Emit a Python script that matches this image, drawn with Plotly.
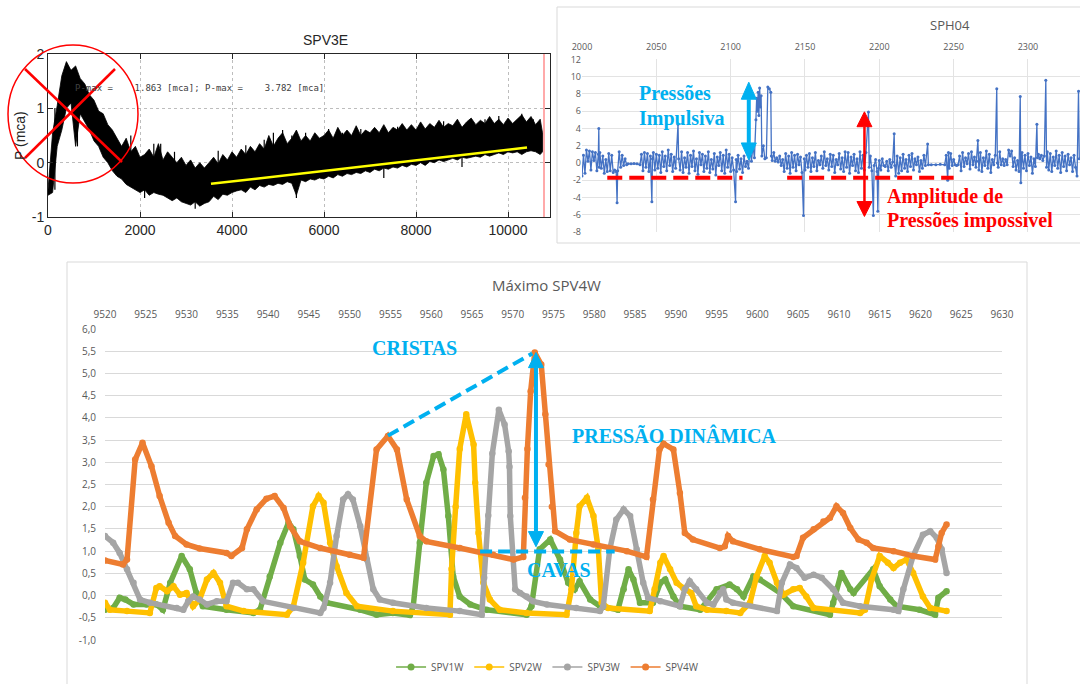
import plotly.graph_objects as go

W, H = 1080, 684


def px(x):
    return x / W


def py(y):
    return 1 - y / H


# ---------------- Panel 1 : SPV3E (MATLAB style) ----------------
SPV3E_X = [0, 100, 200, 300, 400, 500, 600, 700, 800, 900,
           1000, 1100, 1200, 1300, 1400, 1500, 1600, 1700, 1800, 1900,
           2000, 2100, 2200, 2300, 2400, 2500, 2600, 2700, 2800, 2900,
           3000, 3100, 3200, 3300, 3400, 3500, 3600, 3700, 3800, 3900,
           4000, 4100, 4200, 4300, 4400, 4500, 4600, 4700, 4800, 4900,
           5000, 5100, 5200, 5300, 5400, 5500, 5600, 5700, 5800, 5900,
           6000, 6100, 6200, 6300, 6400, 6500, 6600, 6700, 6800, 6900,
           7000, 7100, 7200, 7300, 7400, 7500, 7600, 7700, 7800, 7900,
           8000, 8100, 8200, 8300, 8400, 8500, 8600, 8700, 8800, 8900,
           9000, 9100, 9200, 9300, 9400, 9500, 9600, 9700, 9800, 9900,
           10000, 10100, 10200, 10300, 10400, 10500, 10600, 10700, 10750]
SPV3E_UPPER = [-0.5, 0.55, 1.05, 1.6, 1.86, 1.7, 1.78, 1.55, 1.45, 1.25,
               1.15, 0.95, 0.9, 0.7, 0.6, 0.45, 0.3, 0.45, 0.2, 0.3,
               0.1, 0.15, 0.25, 0.1, 0.35, 0.05, 0.2, 0.1, 0.0, 0.1,
               -0.05, 0.05, -0.1, 0.0, -0.1, 0.0, 0.1, -0.02, 0.15, 0.05,
               0.2, 0.1, 0.25, 0.15, 0.3, 0.2, 0.35, 0.25, 0.5, 0.3,
               0.45, 0.55, 0.35, 0.45, 0.6, 0.4, 0.5, 0.4, 0.55, 0.45,
               0.5, 0.6, 0.45, 0.65, 0.5, 0.6, 0.5, 0.68, 0.5, 0.6,
               0.55, 0.65, 0.55, 0.7, 0.55, 0.65, 0.6, 0.72, 0.6, 0.7,
               0.6, 0.75, 0.62, 0.72, 0.65, 0.78, 0.65, 0.72, 0.68, 0.8,
               0.65, 0.75, 0.82, 0.7, 0.78, 0.72, 0.85, 0.72, 0.8, 0.7,
               0.82, 0.72, 0.8, 0.88, 0.75, 0.85, 0.7, 0.8, 0.55]
SPV3E_LOWER = [-0.6, -0.55, 0.3, 0.6, 1.0, 1.1, 0.3, 0.9, 0.75, 0.6,
               0.4, 0.3, 0.1, 0.0, -0.15, -0.25, -0.3, -0.4, -0.45, -0.5,
               -0.55, -0.5, -0.6, -0.55, -0.58, -0.6, -0.65, -0.7, -0.65, -0.72,
               -0.75, -0.78, -0.72, -0.8, -0.75, -0.72, -0.62, -0.68, -0.58, -0.6,
               -0.55, -0.52, -0.5, -0.55, -0.45, -0.5, -0.42, -0.45, -0.4, -0.42,
               -0.38, -0.4, -0.35, -0.38, -0.6, -0.32, -0.35, -0.3, -0.32, -0.28,
               -0.3, -0.25, -0.28, -0.22, -0.25, -0.2, -0.22, -0.18, -0.2, -0.15,
               -0.18, -0.12, -0.15, -0.1, -0.12, -0.08, -0.1, -0.05, -0.08, -0.03,
               -0.05, 0.0, -0.05, 0.02, 0.0, 0.05, 0.02, 0.05, 0.08, 0.05,
               0.1, 0.08, 0.1, 0.12, 0.1, 0.15, 0.12, 0.15, 0.18, 0.15,
               0.2, 0.18, 0.2, 0.15, 0.2, 0.22, 0.2, 0.15, 0.2]
# isolated spikes sticking out of the noise band (x, bottom, top)
SPV3E_SPIKE_X = [150, 640, 1800, 2100, 2300, 2450, 2750, 3200, 3700, 4300, 4700, 4900,
                 5100, 5300, 5400, 5600, 6100, 6400, 6800, 7100, 7300, 7600, 8100, 8600,
                 9000, 9100, 9500, 9800, 10300, 10550]
SPV3E_SPIKE_BOT = [-0.5, 0.3, 0.0, -0.65, -0.2, -0.2, -0.3, -0.85, -0.3, -0.2, -0.1, -0.1,
                   -0.1, 0.0, -0.65, 0.0, 0.0, 0.1, 0.1, 0.2, -0.28, 0.2, 0.3, 0.3,
                   -0.08, 0.3, 0.4, 0.4, 0.4, 0.4]
SPV3E_SPIKE_TOP = [1.0, 1.2, 0.5, 0.0, 0.35, 0.35, 0.2, -0.3, 0.22, 0.32, 0.42, 0.55,
                   0.6, 0.5, 0.2, 0.55, 0.62, 0.55, 0.62, 0.62, 0.3, 0.66, 0.72, 0.76,
                   0.5, 0.72, 0.8, 0.86, 0.9, 0.8]
SPV3E_TREND_X = [3543, 10413]
SPV3E_TREND_Y = [-0.39, 0.28]
SPV3E_END_MARK = 10783
SPV3E_XTICKS = [0, 2000, 4000, 6000, 8000, 10000]
SPV3E_XLABELS = ["0", "2000", "4000", "6000", "8000", "10000"]
SPV3E_YTICKS = [-1, 0, 1, 2]
SPV3E_YLABELS = ["-1", "0", "1", "2"]

# ---------------- Panel 2 : SPH04 ----------------
SPH_X = [2000, 2001, 2002, 2003, 2004, 2005, 2006, 2007, 2008, 2009, 2010, 2011, 2011.3, 2011.6,
         2012, 2013, 2014, 2015, 2016, 2017, 2018, 2019, 2020, 2021, 2022, 2023, 2023.6, 2024,
         2025, 2026, 2027, 2028, 2029, 2030, 2031, 2033, 2035, 2037, 2039,
         2040, 2041, 2042, 2043, 2044, 2045, 2046, 2047, 2047.4,
         2048, 2049, 2050, 2051, 2052, 2053, 2054, 2055, 2056, 2057, 2058, 2059, 2060, 2061, 2062, 2063, 2064.6, 2065,
         2066, 2067, 2068, 2069, 2070, 2071, 2072, 2073, 2074, 2075, 2076, 2077, 2078, 2079, 2080, 2081, 2082, 2083,
         2084, 2085, 2086, 2087, 2088, 2089, 2090, 2091, 2092, 2093, 2094, 2095, 2096, 2097, 2098, 2099, 2100, 2101, 2102,
         2103.3, 2103.7, 2104, 2105, 2106, 2107, 2108, 2109, 2110, 2111, 2112, 2113, 2114, 2115, 2116,
         2117, 2117.5, 2118, 2118.5, 2119, 2119.5, 2120, 2120.5, 2121, 2122, 2123, 2124, 2125, 2126, 2127, 2127.4,
         2128, 2129, 2130, 2131, 2132, 2133, 2134, 2135,
         2136, 2137, 2138, 2139, 2140, 2141, 2142, 2143, 2144, 2145, 2146, 2147, 2148, 2149, 2149.5,
         2150, 2151, 2152, 2153, 2154, 2155, 2156, 2157, 2158, 2159, 2160, 2161, 2162, 2163, 2164, 2165, 2166, 2167,
         2168, 2169, 2170, 2171, 2172, 2173, 2174, 2175,
         2176, 2177, 2178, 2179, 2180, 2181, 2182, 2183, 2184, 2185, 2186, 2187, 2188, 2189, 2190, 2191, 2192.7, 2193.2,
         2194, 2195, 2196, 2196.5, 2197.5, 2198.5, 2199, 2199.5,
         2200, 2201, 2202, 2203, 2204, 2205, 2206, 2207, 2208, 2209, 2210, 2210.4,
         2211, 2212, 2213, 2214, 2215, 2216, 2217, 2218, 2219, 2220, 2221, 2222, 2223, 2224, 2225, 2226, 2227, 2228,
         2229, 2230, 2231, 2232.5, 2233,
         2235, 2238, 2241, 2244, 2245, 2246, 2246.5, 2247, 2248, 2249, 2250,
         2251, 2252, 2253, 2254, 2255, 2256, 2257, 2258, 2259, 2260, 2261, 2262, 2263, 2264, 2265, 2266.3, 2266.6,
         2267, 2268, 2269, 2270, 2271, 2272, 2273, 2274, 2275, 2276, 2277, 2278, 2279, 2279.4,
         2280, 2281, 2282, 2283, 2284, 2285, 2286, 2287, 2288, 2289, 2290, 2291, 2292, 2293, 2294, 2294.8, 2295.2, 2295.6,
         2296, 2297, 2298, 2299, 2300, 2301, 2302, 2303, 2304, 2305, 2306, 2306.4,
         2307, 2308, 2309, 2310, 2311, 2312, 2312.5,
         2313, 2314, 2315, 2316, 2317, 2318, 2319, 2320, 2321, 2322, 2323, 2324, 2325, 2326, 2327, 2328, 2329, 2330,
         2331, 2332, 2333, 2334, 2334.5]
SPH_Y = [-1.5, 0.9, -1.2, 1.5, 0.2, 1.4, -0.8, 1.3, 0.3, 1.2, -0.9, 1.0, 4.0, -0.5,
         1.2, -0.6, 0.8, -1.2, 0.4, -1.0, 1.1, -0.9, 0.9, -1.1, -0.8, -1.0, -4.6, -0.9,
         1.3, -0.5, 0.9, -0.3, 0.5, -0.2, -0.1, -0.1, -0.05, -0.1, -0.2,
         1.0, -0.9, 1.2, -0.5, 1.1, -1.0, 0.8, -4.5, 0.5,
         1.2, -0.8, 1.0, -0.6, 0.9, -1.1, 1.3, -0.4, 0.8, -0.9, 1.5, -0.3, 1.0, -1.0, 0.7, -0.6, 4.5, 0.5,
         -0.8, 1.3, -1.1, 0.6, -0.5, 1.2, -1.2, 0.9, -0.4, 1.4, -0.9, 0.5, -1.3, 1.2, -0.2, 1.0, -1.0, 0.8,
         -0.6, 1.3, -1.1, 0.4, -0.7, 1.1, -1.4, 0.7, -0.3, 1.2, -0.9, 0.9, -1.2, 1.5, -0.5, 1.0, -1.0, 0.6, -0.8,
         -4.5, 0.4, -1.0, 0.9, -0.7, 0.5, -1.1, 0.8, -0.4, 0.2, -0.6, 1.5, 0.2, 2.0, 0.6,
         5.0, 7.5, 6.0, 8.2, 5.5, 8.7, 6.5, 7.8, 0.8, 2.0, 0.5, 0.6, 8.8, 8.6, 8.2, 0.8,
         0.3, 1.2, 0.2, 0.6, 0.1, 0.8, -0.3, 0.4,
         -1.0, 1.1, -0.6, 0.8, -1.2, 1.2, -0.5, 0.9, -0.9, 1.0, -0.2, 0.7, -1.1, -6.1, 0.5,
         -0.8, 0.9, -0.5, 1.1, -1.0, 0.6, -0.4, 1.2, -0.9, 0.3, -0.2, 0.8, -0.6, 1.3, -0.3, 0.5, -0.8, 1.0,
         -0.4, 0.9, -1.1, 0.4, -0.2, 1.1, -0.7, 0.6,
         -1.0, 1.3, -0.5, 1.2, -1.2, 0.7, -0.3, 1.0, -0.9, 0.5, -1.1, 1.3, -0.6, 0.9, -0.8, 1.2, 5.9, -0.5,
         0.8, -0.9, -6.1, -0.3, 0.4, -1.0, -5.6, -0.6,
         0.3, -0.8, 0.5, -0.3, -0.4, 0.2, -0.9, 0.4, -0.5, 0.1, 3.4, -0.3,
         -1.5, 0.8, -1.2, 0.6, -0.9, 1.0, -0.6, 0.4, -1.0, 0.9, -0.4, 1.1, -0.8, 0.5, -0.2, 0.7, -1.0, 0.3,
         -0.6, 0.9, -0.3, 2.2, -0.2,
         -0.2, -0.2, -0.15, -0.2, 0.9, -2.0, 1.2, -0.6, 1.1, -0.3, 0.4,
         -0.2, -0.3, -0.2, 0.8, -0.9, 1.2, -0.4, 0.6, -0.1, 1.1, -0.7, 1.3, -0.2, 0.7, -0.5, 2.6, 0.2,
         -0.8, 1.2, -1.0, 0.6, -0.3, 1.4, -0.6, 1.0, -1.1, 0.4, -0.2, 0.9, 8.6, 0.0,
         -0.5, 1.3, -0.2, 0.5, -0.3, 0.4, -0.2, 1.5, 0.8, 1.4, -0.4, 0.6, -0.8, 0.3, -1.0, 7.7, -2.3, 0.2,
         1.2, -0.6, 0.9, -0.9, 1.1, -0.3, 0.7, -1.2, 0.5, -0.4, 4.5, 0.6,
         1.0, 0.5, 0.9, 0.3, 0.8, 9.6, -0.5,
         1.3, -0.8, 1.1, -1.0, 0.7, -0.3, 1.4, -0.6, 0.9, -1.1, 1.2, -0.4, 0.8, -0.9, 1.0, -0.2, 0.6, -1.0,
         0.9, -0.5, -1.5, 8.3, 0.5]
assert len(SPH_X) == len(SPH_Y), (len(SPH_X), len(SPH_Y))
SPH_XTICKS = [2000, 2050, 2100, 2150, 2200, 2250, 2300]
SPH_YTICKS = [-8, -6, -4, -2, 0, 2, 4, 6, 8, 10, 12]

# ---------------- Panel 3 : Máximo SPV4W ----------------
SPV1W_X = [9520, 9521, 9521.8, 9522.5, 9523.5, 9525.1, 9526.3, 9527.1, 9528, 9529.4, 9530.4, 9531.2, 9532,
           9534.9, 9538.2, 9539, 9540.2, 9541.5, 9542.5, 9543.1, 9543.9, 9544.5, 9545.5, 9546.4, 9547.2,
           9551.3, 9553.3, 9555.3, 9557.4, 9557.8, 9558.6, 9559.4, 9560.3, 9560.9, 9561.5, 9562.1, 9562.7,
           9563.5, 9564.8, 9566.8, 9571.7, 9572.3, 9573.3, 9574.6, 9575.8, 9576.8, 9577.6, 9578.2, 9579.5,
           9580.7, 9582.9, 9583.6, 9584.2, 9584.8, 9585.6, 9587.2, 9588.1, 9588.7, 9589.7, 9590.5, 9593,
           9595, 9596.6, 9597.5, 9598.3, 9599.5, 9600.3, 9602.8, 9604.4, 9608.9, 9609.3, 9610.3, 9611.4,
           9611.8, 9614.2, 9615, 9616.3, 9617.1, 9619.9, 9621.8, 9622.2, 9623.2]
SPV1W_Y = [-0.32, -0.28, -0.05, -0.09, -0.2, -0.2, -0.2, -0.32, 0.29, 0.89, 0.59, 0.06, -0.24,
           -0.32, -0.39, -0.32, 0.43, 1.19, 1.64, 1.49, 0.89, 0.36, 0.25, -0.02, -0.16,
           -0.32, -0.43, -0.39, -0.44, -0.24, 1.19, 2.54, 3.14, 3.18, 2.84, 1.79, 0.43,
           -0.02, -0.2, -0.32, -0.43, -0.24, 1.04, 1.26, 0.81, 0.29, 0.14, 0.32, -0.09,
           -0.24, -0.32, 0.14, 0.59, 0.36, -0.16, -0.16, 0.29, 0.36, -0.02, -0.24, -0.32,
           0.14, 0.25, 0.14, -0.02, 0.43, 0.36, 0.06, -0.24, -0.43, -0.16, 0.51, 0.14,
           0.06, 0.59, 0.21, -0.09, -0.24, -0.32, -0.43, -0.05, 0.1]

SPV2W_X = [9520, 9520.6, 9522.7, 9525.5, 9526.3, 9526.7, 9527.6, 9528.4, 9529.2, 9530, 9530.8, 9531.6,
           9532.5, 9533.3, 9534.1, 9534.9, 9537, 9542.3, 9543.1, 9544.3, 9545.5, 9546.2, 9546.8, 9547.6,
           9548.4, 9549.6, 9550.9, 9555.3, 9562.3, 9562.5, 9563.0, 9563.5, 9564.3, 9565.2, 9565.4, 9565.8,
           9566.4, 9567.2, 9568.4, 9571.7, 9576.6, 9577.2, 9577.8, 9578.2, 9579.1, 9579.9, 9580.5, 9580.9,
           9581.7, 9586.8, 9587.4, 9588.1, 9588.5, 9589.3, 9590.1, 9590.9, 9591.9, 9592.5, 9593.8, 9596.2,
           9597.9, 9599.1, 9599.9, 9600.9, 9601.5, 9602.4, 9603.2, 9604.4, 9605.2, 9606, 9606.9, 9612.6,
           9613.2, 9614, 9615, 9616, 9616.7, 9617.5, 9618.3, 9619.1, 9620.3, 9621.2, 9623.2]
SPV2W_Y = [-0.16, -0.32, -0.35, -0.39, 0.17, 0.21, 0.1, 0.21, 0.02, 0.06, -0.24, -0.09,
           0.36, 0.51, 0.29, -0.24, -0.35, -0.43, -0.24, 0.74, 2.01, 2.24, 2.09, 1.19,
           0.66, 0.06, -0.24, -0.35, -0.43, 0.6, 2.0, 3.3, 4.08, 3.4, 2.54, 1.41,
           0.29, -0.09, -0.32, -0.39, -0.43, 0.14, 1.41, 2.01, 2.2, 1.79, 1.04, -0.16,
           -0.28, -0.35, 0.14, 0.74, 0.89, 0.59, 0.29, 0.17, 0.06, -0.24, -0.32, -0.35,
           -0.39, -0.16, 0.43, 0.89, 0.74, 0.29, 0.02, 0.14, 0.17, -0.02, -0.28, -0.39,
           -0.32, 0.36, 0.89, 0.74, 0.62, 0.74, 0.81, 0.51, -0.02, -0.28, -0.35]

SPV3W_X = [9520, 9521, 9521.8, 9522.7, 9523.5, 9524.3, 9525.5, 9528.8, 9529.6, 9530.2, 9530.8, 9531.6,
           9532.5, 9533.7, 9534.9, 9535.7, 9536.3, 9537.4, 9538.2, 9539.4, 9543.1, 9546.4, 9546.8, 9547.6,
           9548.4, 9549.2, 9549.8, 9550.4, 9551.3, 9552.1, 9552.9, 9553.7, 9555.3, 9559.4, 9563.5, 9566.2,
           9566.5, 9567.0, 9567.5, 9568.3, 9569, 9569.5, 9569.6, 9569.7, 9570.1, 9570.3, 9570.9, 9571.7,
           9572.5, 9574.2, 9577.8, 9580.7, 9581.1, 9581.9, 9582.7, 9583.6, 9584.4, 9585.2, 9586, 9586.6,
           9588.1, 9590.5, 9591.1, 9591.7, 9592.5, 9593.8, 9594.6, 9595.4, 9595.8, 9596.2, 9597, 9602.4,
           9603, 9604, 9604.8, 9605.8, 9606.9, 9607.9, 9609.3, 9610.5, 9612.6, 9616.7, 9617.3, 9617.9,
           9619.1, 9620.3, 9621.2, 9622, 9622.6, 9623.2]
SPV3W_Y = [1.34, 1.19, 0.96, 0.59, 0.29, -0.09, -0.16, -0.28, -0.32, -0.13, -0.02, -0.09,
           -0.2, -0.13, -0.13, 0.29, 0.29, 0.14, 0.14, -0.13, -0.28, -0.39, -0.28, 0.29,
           1.34, 2.16, 2.28, 2.16, 1.56, 0.81, 0.14, -0.09, -0.16, -0.28, -0.35, -0.43,
           0.4, 1.8, 3.2, 4.18, 3.85, 3.25, 2.9, 1.79, 0.81, 0.14, 0.06, -0.02,
           -0.13, -0.2, -0.28, -0.35, -0.24, 1.04, 1.71, 1.94, 1.79, 1.04, 0.29, -0.05,
           -0.13, -0.24, 0.14, 0.32, 0.14, -0.16, -0.2, 0.06, 0.14, -0.09, -0.16, -0.35,
           0.29, 0.7, 0.62, 0.4, 0.47, 0.4, 0.14, -0.16, -0.24, -0.32, -0.35, 0.14,
           0.89, 1.37, 1.45, 1.3, 1.04, 0.51]

SPV4W_X = [9520, 9522.2, 9522.7, 9523.7, 9524.6, 9525.7, 9526.7, 9527.8, 9528.6, 9530, 9531.6, 9534.9,
           9535.5, 9536.8, 9537.4, 9538.6, 9539.8, 9540.8, 9541.9, 9542.7, 9543.9, 9546.4, 9550, 9551.7,
           9553.3, 9554.7, 9555.8, 9557, 9558.6, 9559.4, 9563.5, 9567.6, 9570.1, 9571.3, 9571.5, 9571.8,
           9572.2, 9572.7, 9573.5, 9574, 9574.4, 9574.8, 9575.2, 9577, 9579.9, 9584, 9586.4, 9587.2,
           9588, 9588.5, 9589.7, 9590.5, 9591.1, 9592.1, 9595.4, 9596, 9596.4, 9597, 9600.3, 9604.4,
           9604.8, 9605.6, 9606.9, 9608.1, 9608.9, 9609.7, 9610.5, 9611.4, 9612.4, 9613.4, 9614.2, 9616.7,
           9619.1, 9621.8, 9622.2, 9622.6, 9623.2]
SPV4W_Y = [0.79, 0.7, 0.81, 3.06, 3.44, 2.91, 2.24, 1.64, 1.34, 1.15, 1.06, 0.96,
           0.89, 1.07, 1.49, 1.94, 2.18, 2.24, 1.97, 1.56, 1.22, 1.07, 0.92, 0.85,
           3.29, 3.59, 3.29, 2.16, 1.34, 1.22, 1.07, 0.92, 0.81, 0.87, 2.2, 3.3,
           4.6, 5.47, 5.2, 4.08, 2.95, 2.0, 1.45, 1.26, 1.15, 1.0, 0.87, 2.16,
           3.29, 3.42, 3.29, 2.31, 1.41, 1.26, 1.07, 1.11, 1.34, 1.22, 1.04, 0.87,
           0.89, 1.3, 1.49, 1.67, 1.75, 2.01, 1.86, 1.52, 1.26, 1.19, 1.07, 1.0,
           0.89, 0.81, 1.11, 1.41, 1.6]

SERIES_NAMES = ["SPV1W", "SPV2W", "SPV3W", "SPV4W"]
SERIES_COLORS = ["#70ad47", "#ffc000", "#a5a5a5", "#ed7d31"]
SERIES_X = [SPV1W_X, SPV2W_X, SPV3W_X, SPV4W_X]
SERIES_Y = [SPV1W_Y, SPV2W_Y, SPV3W_Y, SPV4W_Y]
for sx, sy in zip(SERIES_X, SERIES_Y):
    assert len(sx) == len(sy)

BOT_XTICKS = [9520, 9525, 9530, 9535, 9540, 9545, 9550, 9555, 9560, 9565, 9570, 9575,
              9580, 9585, 9590, 9595, 9600, 9605, 9610, 9615, 9620, 9625, 9630]
BOT_YTICKS = [-1.0, -0.5, 0.0, 0.5, 1.0, 1.5, 2.0, 2.5, 3.0, 3.5, 4.0, 4.5, 5.0, 5.5, 6.0]
BOT_YLABELS = ["-1,0", "-0,5", "0,0", "0,5", "1,0", "1,5", "2,0", "2,5", "3,0",
               "3,5", "4,0", "4,5", "5,0", "5,5", "6,0"]

BLUE = "#00b0f0"
RED = "#ff0000"
GREY_TXT = "#595959"

fig = go.Figure()

# ---- SPV3E traces ----
fig.add_trace(go.Scatter(
    x=SPV3E_X + SPV3E_X[::-1], y=SPV3E_UPPER + SPV3E_LOWER[::-1],
    mode="lines", fill="toself", fillcolor="black",
    line=dict(color="black", width=0.8), xaxis="x", yaxis="y",
    showlegend=False, hoverinfo="skip"))
spike_x, spike_y = [], []
for sx, sb, st in zip(SPV3E_SPIKE_X, SPV3E_SPIKE_BOT, SPV3E_SPIKE_TOP):
    spike_x += [sx, sx, None]
    spike_y += [sb, st, None]
fig.add_trace(go.Scatter(
    x=spike_x, y=spike_y, mode="lines", line=dict(color="black", width=1.2),
    xaxis="x", yaxis="y", showlegend=False, hoverinfo="skip"))
fig.add_trace(go.Scatter(
    x=SPV3E_TREND_X, y=SPV3E_TREND_Y, mode="lines",
    line=dict(color="#ffff00", width=2.5), xaxis="x", yaxis="y",
    showlegend=False, hoverinfo="skip"))

# ---- SPH04 trace ----
fig.add_trace(go.Scatter(
    x=SPH_X, y=SPH_Y, mode="lines+markers",
    line=dict(color="#4472c4", width=1.3),
    marker=dict(color="#4472c4", size=3),
    xaxis="x2", yaxis="y2", showlegend=False, hoverinfo="skip"))

# ---- bottom traces ----
for name, color, sx, sy in zip(SERIES_NAMES, SERIES_COLORS, SERIES_X, SERIES_Y):
    fig.add_trace(go.Scatter(
        x=sx, y=sy, mode="lines+markers", name=name,
        line=dict(color=color, width=5.5),
        marker=dict(color=color, size=6.5),
        xaxis="x3", yaxis="y3", showlegend=False, hoverinfo="skip"))
for name, color in zip(SERIES_NAMES, SERIES_COLORS):
    fig.add_trace(go.Scatter(
        x=[None], y=[None], mode="lines+markers", name=name,
        line=dict(color=color, width=1.5),
        marker=dict(color=color, size=7),
        xaxis="x3", yaxis="y3", showlegend=True))

shapes = []
# frames
shapes.append(dict(type="rect", xref="paper", yref="paper", x0=px(557), x1=1.01,
                   y0=py(243), y1=py(7), line=dict(color="#d9d9d9", width=1)))
shapes.append(dict(type="rect", xref="paper", yref="paper", x0=px(67), x1=px(1027),
                   y0=-0.01, y1=py(262), line=dict(color="#d9d9d9", width=1)))
# SPV3E end mark
shapes.append(dict(type="line", xref="x", yref="y domain", x0=SPV3E_END_MARK, x1=SPV3E_END_MARK,
                   y0=0, y1=1, line=dict(color="#ffaaaa", width=2)))
# red circle and cross
shapes.append(dict(type="circle", xref="paper", yref="paper", x0=px(8), x1=px(138),
                   y0=py(183), y1=py(45), line=dict(color=RED, width=1.5)))
shapes.append(dict(type="line", xref="paper", yref="paper", x0=px(25), y0=py(69),
                   x1=px(122), y1=py(162), line=dict(color=RED, width=2.5)))
shapes.append(dict(type="line", xref="paper", yref="paper", x0=px(25), y0=py(158),
                   x1=px(115), y1=py(69), line=dict(color=RED, width=2.5)))

# SPH04 red dashed lines
for a, b in [(2017, 2108), (2138, 2250)]:
    shapes.append(dict(type="line", xref="x2", yref="y2", x0=a, x1=b, y0=-1.7, y1=-1.7,
                       line=dict(color=RED, width=4, dash="15px,7px")))


def double_arrow(xref, yref, x, y_top, y_bot, hw, hl, color, width):
    out = []
    out.append(dict(type="line", xref=xref, yref=yref, x0=x, x1=x, y0=y_bot + hl, y1=y_top - hl,
                    line=dict(color=color, width=width)))
    out.append(dict(type="path", xref=xref, yref=yref,
                    path=f"M {x-hw},{y_top-hl} L {x},{y_top} L {x+hw},{y_top-hl} Z",
                    fillcolor=color, line=dict(color=color, width=1)))
    out.append(dict(type="path", xref=xref, yref=yref,
                    path=f"M {x-hw},{y_bot+hl} L {x},{y_bot} L {x+hw},{y_bot+hl} Z",
                    fillcolor=color, line=dict(color=color, width=1)))
    return out


shapes += double_arrow("x2", "y2", 2112.2, 9.36, 0.35, 5.05, 1.97, BLUE, 4)
shapes += double_arrow("x2", "y2", 2190.0, 5.93, -6.2, 5.05, 1.73, RED, 2.5)
shapes += double_arrow("x3", "y3", 9572.85, 5.47, 1.1, 0.92, 0.34, BLUE, 4)

# bottom chart dashed blue lines
shapes.append(dict(type="line", xref="x3", yref="y3", x0=9554.7, y0=3.6, x1=9572.4, y1=5.45,
                   line=dict(color=BLUE, width=4, dash="12px,6px")))
shapes.append(dict(type="line", xref="x3", yref="y3", x0=9566, y0=0.99, x1=9582.5, y1=0.99,
                   line=dict(color=BLUE, width=4, dash="12px,6px")))

ann = []


def label(text, x, y, font, xanchor="center", angle=0):
    return dict(text=text, x=px(x), y=py(y), xref="paper", yref="paper", showarrow=False,
                xanchor=xanchor, yanchor="middle", textangle=angle, font=font)


ann.append(label("SPV3E", 325, 40, dict(family="Liberation Sans", size=14, color="#262626")))
ann.append(label("P (mca)", 20, 136, dict(family="Liberation Sans", size=14, color="#262626"),
                 angle=-90))
ann.append(label("P-max =    1.863 [mca]; P-max =    3.782 [mca]", 73, 88,
                 dict(family="DejaVu Sans Mono", size=9, color="#404040"), xanchor="left"))
ann.append(label("SPH04", 950, 25, dict(family="Open Sans", size=13, color=GREY_TXT)))
ann.append(label("Máximo SPV4W", 546, 285, dict(family="Open Sans", size=15, color=GREY_TXT)))

serif = "Liberation Serif"
for txt, x, y, col in [("Pressões", 637, 93, BLUE), ("Impulsiva", 637, 118, BLUE),
                       ("Amplitude de", 885, 197, RED), ("Pressões impossivel", 885, 220, RED),
                       ("CRISTAS", 370, 348, BLUE), ("PRESSÃO DINÂMICA", 570, 435, BLUE),
                       ("CAVAS", 525, 570, BLUE)]:
    ann.append(label(f"<b>{txt}</b>", x, y, dict(family=serif, size=20, color=col),
                     xanchor="left"))

fig.update_layout(
    width=W, height=684, autosize=False,
    margin=dict(l=0, r=0, t=0, b=0, autoexpand=False),
    paper_bgcolor="white", plot_bgcolor="white",
    shapes=shapes, annotations=ann, hovermode=False,
    xaxis=dict(domain=[px(48), px(550)], range=[0, 10913], anchor="y", automargin=False,
               tickvals=SPV3E_XTICKS, ticktext=SPV3E_XLABELS, ticks="inside", ticklen=5,
               tickcolor="#262626", showline=True, mirror="ticks", linecolor="#262626", linewidth=1,
               showgrid=True, gridcolor="#bdbdbd", griddash="dot", zeroline=False,
               tickfont=dict(family="Liberation Sans", size=14, color="#262626")),
    yaxis=dict(domain=[py(217), py(54)], range=[-1, 2], anchor="x", automargin=False,
               tickvals=SPV3E_YTICKS, ticktext=SPV3E_YLABELS, ticks="inside", ticklen=5,
               tickcolor="#262626", showline=True, mirror="ticks", linecolor="#262626", linewidth=1,
               showgrid=True, gridcolor="#bdbdbd", griddash="dot", zeroline=False,
               tickfont=dict(family="Liberation Sans", size=14, color="#262626")),
    xaxis2=dict(domain=[px(582), 1.0], range=[2000, 2335], anchor="y2", side="top", automargin=False,
                tickvals=SPH_XTICKS, ticks="", showline=False, zeroline=False,
                showgrid=True, gridcolor="#e3e3e3", ticklabelstandoff=6,
                tickfont=dict(family="Open Sans", size=9, color=GREY_TXT)),
    yaxis2=dict(domain=[py(232), py(59)], range=[-8, 12.05], anchor="x2", automargin=False,
                tickvals=SPH_YTICKS, ticktext=[str(v) for v in SPH_YTICKS], ticks="",
                showline=False, zeroline=False, showgrid=True, gridcolor="#e3e3e3",
                tickfont=dict(family="Open Sans", size=9, color=GREY_TXT)),
    xaxis3=dict(domain=[px(105), px(1002)], range=[9520, 9630], anchor="y3", side="top",
                automargin=False,
                tickvals=BOT_XTICKS, ticktext=[str(v) for v in BOT_XTICKS], ticks="",
                showline=False, zeroline=False, showgrid=False, ticklabelstandoff=8,
                tickfont=dict(family="Open Sans", size=10, color=GREY_TXT)),
    yaxis3=dict(domain=[py(640), py(329)], range=[-1, 6], anchor="x3", automargin=False,
                tickvals=BOT_YTICKS, ticktext=BOT_YLABELS, ticks="",
                showline=False, zeroline=False, showgrid=True, gridcolor="#d9d9d9",
                ticklabelstandoff=8,
                tickfont=dict(family="Open Sans", size=10, color=GREY_TXT)),
    legend=dict(orientation="h", x=0.507, xanchor="center", y=py(667), yanchor="middle",
                font=dict(family="Open Sans", size=10, color=GREY_TXT),
                bgcolor="rgba(0,0,0,0)", itemwidth=30),
)

fig.write_html("out.html", config={"displayModeBar": False},
               post_script="document.body.style.margin='0px';document.body.style.overflow='hidden';")
